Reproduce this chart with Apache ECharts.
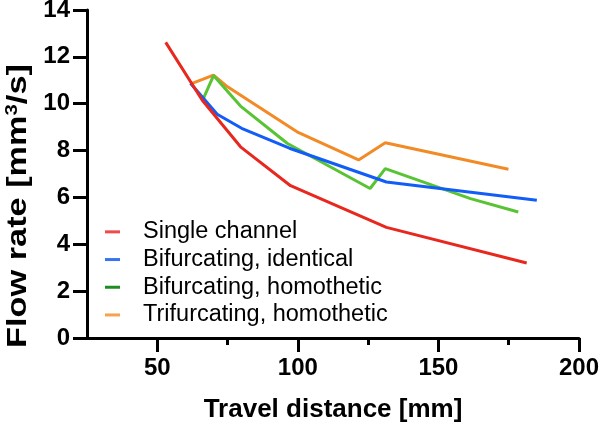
<!DOCTYPE html>
<html>
<head>
<meta charset="utf-8">
<script src="https://cdn.jsdelivr.net/npm/echarts@6/dist/echarts.min.js"></script>
<style>html,body{margin:0;padding:0;background:#fff}#c{width:600px;height:426px}</style>
</head>
<body>
<div id="c"></div>
<script>
// ---- data ----
const seriesNames = ['Single channel', 'Bifurcating, identical', 'Bifurcating, homothetic', 'Trifurcating, homothetic'];
const singleChannel = [[53, 12.62], [66, 10.15], [79.6, 8.16], [97.4, 6.5], [131.5, 4.72], [181.4, 3.2]];
const bifIdentical = [[61.8, 10.87], [71.3, 9.55], [80, 8.95], [97, 8.1], [131.5, 6.66], [185, 5.88]];
const bifHomothetic = [[66.5, 10.25], [70, 11.2], [79.6, 9.9], [96.3, 8.3], [125.7, 6.38], [131.1, 7.23], [161.4, 5.95], [178.4, 5.38]];
const trifHomothetic = [[62.4, 10.87], [70, 11.22], [75, 10.72], [99.7, 8.8], [121.6, 7.6], [131.1, 8.33], [174.9, 7.2]];
const xMajorTicks = [50, 100, 150, 200];
const xMinorTicks = [75, 125, 175];
const yTicks = [0, 2, 4, 6, 8, 10, 12, 14];
const xTitle = 'Travel distance [mm]';
const yTitle = 'Flow rate [mm{sup|3}/s]';

const lineColors = ['#e8281e', '#125cf8', '#58c434', '#f28a26'];
const legendColors = ['#f04a4a', '#3575f0', '#1f8c1f', '#f7a24e'];
const FONT = '"Liberation Sans", Arial, sans-serif';

const chart = echarts.init(document.getElementById('c'), null, {renderer: 'canvas'});
const datasets = [singleChannel, bifIdentical, bifHomothetic, trifHomothetic];

const axisLineStyle = {color: '#000', width: 3};

chart.setOption({
  animation: false,
  backgroundColor: '#fff',
  grid: {left: 87, right: 21, top: 10, bottom: 88, containLabel: false, outerBoundsMode: 'none'},
  legend: {
    orient: 'vertical',
    left: 100,
    top: 213,
    icon: 'rect',
    itemWidth: 15,
    itemHeight: 3,
    itemGap: 0,
    textStyle: {fontFamily: FONT, fontSize: 23.5, color: '#000', lineHeight: 27.7, padding: [0, 0, 0, 18]},
    data: seriesNames.map((n, i) => ({name: n, itemStyle: {color: legendColors[i]}}))
  },
  graphic: [{
    type: 'text',
    x: 18.5,
    y: 206,
    rotation: Math.PI / 2,
    scaleX: 1.27,
    style: {
      text: yTitle,
      fontFamily: FONT, fontSize: 27, fontWeight: 'bold', fill: '#000',
      align: 'center', verticalAlign: 'middle',
      rich: {sup: {fontFamily: FONT, fontSize: 16, fontWeight: 'bold', fill: '#000', lineHeight: 16, verticalAlign: 'top'}}
    }
  }],
  xAxis: [{
    type: 'value',
    min: 25,
    max: 200,
    splitLine: {show: false},
    axisLine: {show: true, onZero: false, lineStyle: axisLineStyle},
    axisTick: {show: true, length: 14, lineStyle: {color: '#000', width: 3}, customValues: xMajorTicks},
    axisLabel: {customValues: xMajorTicks, margin: 18, fontFamily: FONT, fontSize: 24, fontWeight: 'bold', color: '#000'},
    name: xTitle,
    nameLocation: 'middle',
    nameGap: 59,
    nameTextStyle: {fontFamily: FONT, fontSize: 26, fontWeight: 'bold', color: '#000'}
  }, {
    type: 'value',
    min: 25,
    max: 200,
    position: 'bottom',
    splitLine: {show: false},
    axisLine: {show: false},
    axisTick: {show: true, length: 7, lineStyle: {color: '#000', width: 3}, customValues: xMinorTicks},
    axisLabel: {show: false}
  }],
  yAxis: {
    type: 'value',
    min: 0,
    max: 14,
    interval: 2,
    splitLine: {show: false},
    axisLine: {show: true, lineStyle: axisLineStyle},
    axisTick: {show: true, length: 14, lineStyle: {color: '#000', width: 3}},
    axisLabel: {margin: 17, fontFamily: FONT, fontSize: 24, fontWeight: 'bold', color: '#000',
      customValues: yTicks}
  },
  series: datasets.map((d, i) => ({
    name: seriesNames[i],
    type: 'line',
    data: d,
    showSymbol: false,
    symbol: 'none',
    lineStyle: {color: lineColors[i], width: 3},
    itemStyle: {color: lineColors[i]},
    z: 10 - i
  }))
});
</script>
</body>
</html>
